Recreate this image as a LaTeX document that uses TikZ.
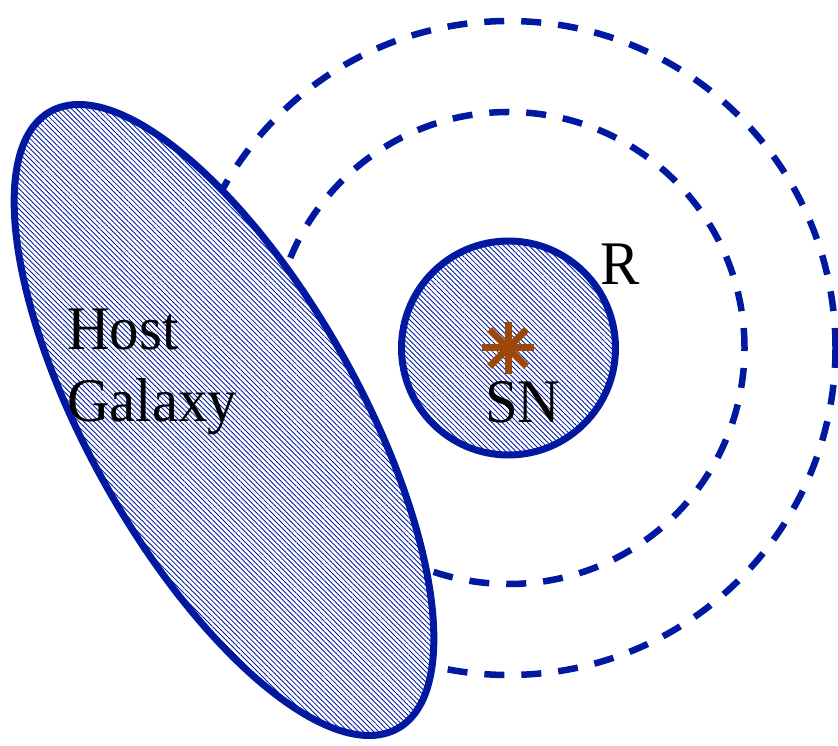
\documentclass[tikz,border=0pt]{standalone}
\usepackage{fontspec}
\setmainfont{Liberation Serif}
\usetikzlibrary{patterns.meta}
\definecolor{dblue}{RGB}{0,25,160}
\definecolor{snbrown}{RGB}{155,72,10}
\tikzset{
  ring/.style={draw=dblue, line width=6.5pt, dash pattern=on 20pt off 17pt},
  hatched/.style={preaction={fill=white}, pattern={Lines[angle=-45,distance=3.6pt,line width=0.85pt]}, pattern color=dblue},
  border/.style={draw=dblue, line width=7pt},
  lbl/.style={inner sep=0pt, font=\fontsize{62}{68}\selectfont, xscale=0.95, anchor=base west},
  starline/.style={draw=snbrown, line width=7pt}
}
\begin{document}
\begin{tikzpicture}[x=1pt,y=1pt]
\useasboundingbox (0,0) rectangle (838,745);
% dashed rings
\coordinate (c) at (508.5,397);
\draw[ring] (c) circle[radius=327];
\draw[ring] (c) circle[radius=236];
% host galaxy
\path[hatched] (224,325) ellipse[x radius=354, y radius=135, rotate=-60.6];
\draw[border] (224,325) ellipse[x radius=354, y radius=135, rotate=-60.6];
% supernova region
\path[hatched] (c) circle[radius=107];
\draw[border] (c) circle[radius=107];
% star
\coordinate (s) at (508,397);
\foreach \a in {0,45,90,135} {
  \draw[starline] (s) -- ++(\a:26) (s) -- ++(\a+180:26);
}
% labels
\node[lbl] (host) at (67,395) {Host};
\node[lbl] (gal) at (67,323) {Galaxy};
\node[lbl] (sn) at (485,322) {SN};
\node[lbl] (r) at (600,460) {R};
\end{tikzpicture}
\end{document}
